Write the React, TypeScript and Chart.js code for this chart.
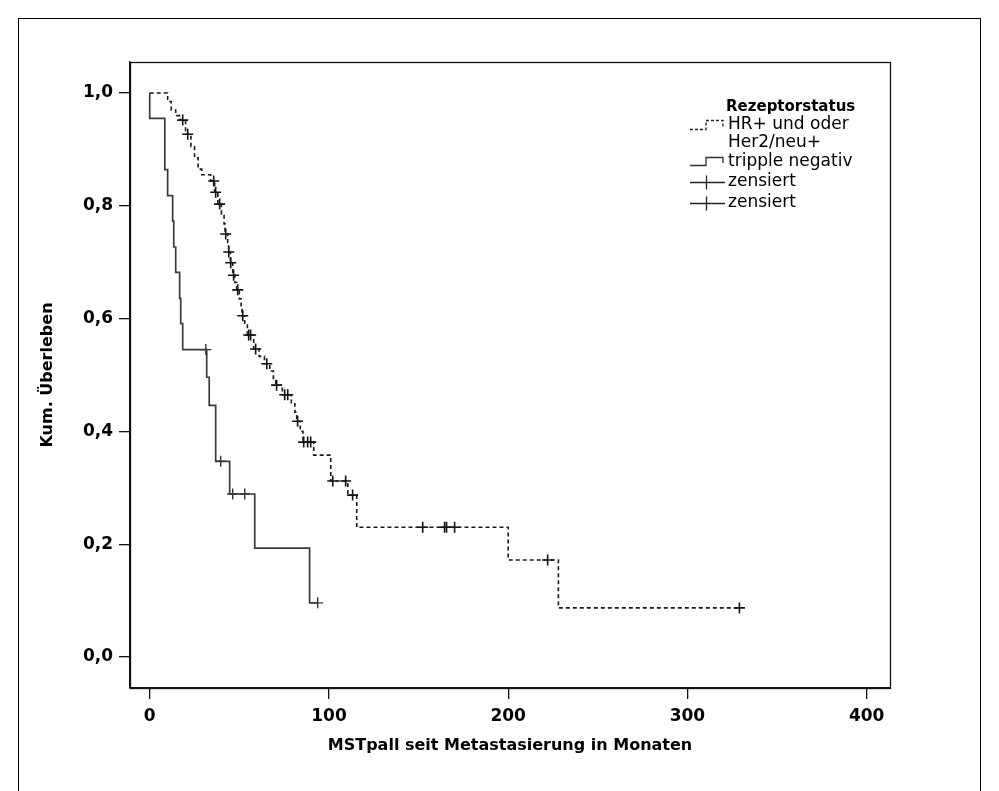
import React, { useEffect, useRef } from "react";
import { Chart, registerables } from "chart.js";
Chart.register(...registerables);

// HR+ und/oder Her2/neu+ (dashed) – event times (months) and survival after each event
const hrTimes = [0, 10, 12, 14.5, 17, 20, 23, 25, 27, 29, 34, 36.2, 38, 40, 41.5, 42, 43.5, 44, 45, 46.3, 47.5, 48.5, 50, 51, 51.5, 53, 54.5, 58, 61, 64, 67, 69, 70.3, 74, 79, 81, 82, 84, 85.5, 91.5, 101, 110.5, 115.5, 200, 228, 329];
const hrSurvival = [1.0, 0.985, 0.97, 0.96, 0.952, 0.927, 0.905, 0.885, 0.865, 0.855, 0.844, 0.824, 0.803, 0.785, 0.768, 0.75, 0.735, 0.718, 0.699, 0.677, 0.664, 0.651, 0.635, 0.62, 0.605, 0.59, 0.571, 0.546, 0.533, 0.52, 0.507, 0.494, 0.482, 0.465, 0.449, 0.434, 0.418, 0.4, 0.381, 0.358, 0.312, 0.287, 0.23, 0.172, 0.087, 0.087];
const hrCensored = [18.4, 21.2, 35.7, 36.8, 39.0, 42.4, 44.1, 45.2, 46.8, 49.1, 51.9, 55.2, 56.3, 59.1, 65.3, 70.8, 75.3, 77.0, 82.5, 85.9, 88.1, 89.8, 102.1, 109.3, 113.2, 152.3, 164.5, 165.6, 170.1, 222, 329];

// tripple negativ (solid)
const tnTimes = [0, 0, 8.4, 8.4, 10, 12.8, 13.4, 14.5, 16.7, 17.3, 18.4, 31.8, 33.2, 36.8, 36.8, 44.6, 58.6, 89.2, 93.7];
const tnSurvival = [1.0, 0.955, 0.909, 0.864, 0.818, 0.773, 0.727, 0.682, 0.636, 0.591, 0.545, 0.496, 0.446, 0.397, 0.347, 0.289, 0.193, 0.096, 0.096];
const tnCensored = [31.3, 39.6, 46.3, 53, 93.7];

const xTicks = [0, 100, 200, 300, 400];
const yTicks = [0, 0.2, 0.4, 0.6, 0.8, 1.0];
const xTitle = "MSTpall seit Metastasierung in Monaten";
const yTitle = "Kum. Überleben";
const legendTitle = "Rezeptorstatus";
const legendHrLines = ["HR+ und oder", "Her2/neu+"];
const legendTn = "tripple negativ";
const legendCensored = "zensiert";

const FONT = '"DejaVu Sans", sans-serif';

function stepValue(times: number[], surv: number[], t: number) {
  let v = surv[0];
  for (let i = 0; i < times.length; i++) {
    if (times[i] <= t) v = surv[i];
  }
  return v;
}

const decorPlugin = {
  id: "decor",
  afterDraw(chart: any) {
    const ctx = chart.ctx as CanvasRenderingContext2D;
    const a = chart.chartArea;
    ctx.save();
    // outer frame
    ctx.strokeStyle = "#000";
    ctx.lineWidth = 1;
    ctx.strokeRect(18.5, 18.5, 962, 800);
    // plot box
    ctx.strokeStyle = "#111";
    ctx.lineWidth = 1.3;
    ctx.strokeRect(Math.round(a.left) + 0.5, Math.round(a.top) + 0.5, Math.round(a.right - a.left), Math.round(a.bottom - a.top));

    // legend
    ctx.fillStyle = "#000";
    ctx.textBaseline = "middle";
    ctx.textAlign = "left";
    ctx.font = `bold 15px ${FONT}`;
    ctx.fillText(legendTitle, 726, 107);

    ctx.font = `17px ${FONT}`;
    const tx = 728;
    ctx.fillText(legendHrLines[0], tx, 125);
    ctx.fillText(legendHrLines[1], tx, 143);
    ctx.fillText(legendTn, tx, 162);
    ctx.fillText(legendCensored, tx, 182);
    ctx.fillText(legendCensored, tx, 203);

    // dashed step symbol
    ctx.strokeStyle = "#222";
    ctx.lineWidth = 1.3;
    ctx.setLineDash([3, 2]);
    ctx.beginPath();
    ctx.moveTo(690, 129.5);
    ctx.lineTo(706, 129.5);
    ctx.lineTo(706, 120.5);
    ctx.lineTo(723, 120.5);
    ctx.lineTo(723, 128);
    ctx.stroke();
    ctx.setLineDash([]);
    // solid step symbol
    ctx.strokeStyle = "#333";
    ctx.beginPath();
    ctx.moveTo(690, 165.5);
    ctx.lineTo(706, 165.5);
    ctx.lineTo(706, 157.5);
    ctx.lineTo(723, 157.5);
    ctx.lineTo(723, 163);
    ctx.stroke();
    // censored symbols
    for (const y of [182.5, 203.5]) {
      ctx.strokeStyle = "#222";
      ctx.beginPath();
      ctx.moveTo(690, y);
      ctx.lineTo(725, y);
      ctx.moveTo(706.5, y - 7);
      ctx.lineTo(706.5, y + 7);
      ctx.stroke();
    }
    ctx.restore();
  },
};

export default function App() {
  const ref = useRef<HTMLCanvasElement | null>(null);
  useEffect(() => {
    if (!ref.current) return;
    const hrLine = hrTimes.map((t, i) => ({ x: t, y: hrSurvival[i] }));
    const tnLine = tnTimes.map((t, i) => ({ x: t, y: tnSurvival[i] }));
    const hrCens = hrCensored.map((t) => ({ x: t, y: stepValue(hrTimes, hrSurvival, t) }));
    const tnCens = tnCensored.map((t) => ({ x: t, y: stepValue(tnTimes, tnSurvival, t) }));
    const tickFont = { family: FONT, size: 17, weight: "bold" as const };
    const titleFont = { family: FONT, size: 16, weight: "bold" as const };
    const chart = new Chart(ref.current, {
      type: "line",
      data: {
        datasets: [
          {
            label: "HR+ und oder Her2/neu+",
            data: hrLine,
            stepped: "before",
            borderColor: "#1a1a1a",
            borderWidth: 1.6,
            borderDash: [4, 3],
            pointRadius: 0,
            fill: false,
          },
          {
            label: "tripple negativ",
            data: tnLine,
            stepped: "before",
            borderColor: "#3a3a3a",
            borderWidth: 1.7,
            pointRadius: 0,
            fill: false,
          },
          {
            label: "zensiert",
            data: hrCens,
            showLine: false,
            pointStyle: "cross",
            pointRadius: 5.5,
            pointBorderWidth: 1.6,
            borderColor: "#111",
            backgroundColor: "#111",
          },
          {
            label: "zensiert",
            data: tnCens,
            showLine: false,
            pointStyle: "cross",
            pointRadius: 5.5,
            pointBorderWidth: 1.4,
            borderColor: "#333",
            backgroundColor: "#333",
          },
        ],
      },
      options: {
        responsive: false,
        animation: false,
        events: [],
        layout: { padding: { left: 10, top: 62, right: 109, bottom: 0 } },
        plugins: { legend: { display: false }, tooltip: { enabled: false } },
        scales: {
          x: {
            type: "linear",
            min: -11,
            max: 413,
            afterBuildTicks: (s: any) => {
              s.ticks = xTicks.map((v) => ({ value: v }));
            },
            afterFit: (s: any) => {
              s.height = 103;
            },
            grid: { drawOnChartArea: false, tickLength: 11, color: "#111", lineWidth: 1.3 },
            border: { display: true, color: "#111", width: 1.3 },
            ticks: {
              color: "#000",
              font: tickFont,
              padding: 7,
              maxRotation: 0,
              callback: (v: any) => String(v),
            },
            title: {
              display: true,
              text: xTitle,
              color: "#000",
              font: titleFont,
              padding: { top: 0, bottom: 36 },
            },
          },
          y: {
            type: "linear",
            min: -0.055,
            max: 1.055,
            afterBuildTicks: (s: any) => {
              s.ticks = yTicks.map((v) => ({ value: v }));
            },
            afterFit: (s: any) => {
              s.width = 120;
            },
            grid: { drawOnChartArea: false, tickLength: 11, color: "#111", lineWidth: 1.3 },
            border: { display: true, color: "#111", width: 1.3 },
            ticks: {
              color: "#000",
              font: tickFont,
              padding: 6,
              callback: (v: any) => Number(v).toFixed(1).replace(".", ","),
            },
            title: {
              display: true,
              text: yTitle,
              color: "#000",
              font: titleFont,
              padding: { top: 28, bottom: 0 },
            },
          },
        },
      },
      plugins: [decorPlugin],
    } as any);
    return () => chart.destroy();
  }, []);
  return (
    <div style={{ position: "fixed", left: 0, top: 0, width: 999, height: 791, background: "#fff", overflow: "hidden" }}>
      <canvas ref={ref} width={999} height={791} style={{ display: "block" }} />
    </div>
  );
}
